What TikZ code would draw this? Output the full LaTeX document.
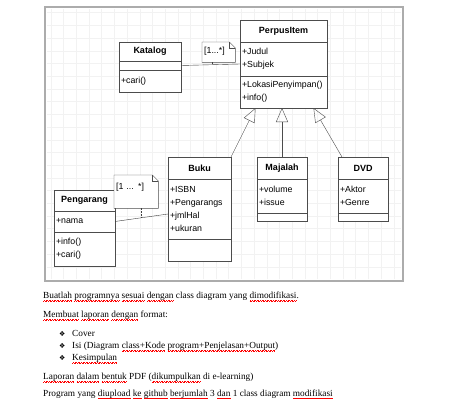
\documentclass[tikz,border=0pt]{standalone}
\usepackage{fontspec}
\setmainfont{Liberation Serif}
\newfontfamily\umlfont{Liberation Sans}
\newfontfamily\symfont{DejaVu Sans}
\usetikzlibrary{arrows.meta,positioning,calc}

% red wavy underline, as the spell checker draws it
\newcommand\sqwave{\hbox{\rule[-2.7pt]{0.8pt}{0.4pt}\rule[-2.2pt]{0.8pt}{0.4pt}}}
\newcommand\sq[1]{\setbox0\hbox{#1}\rlap{\color{red}\hbox to\wd0{\xleaders\sqwave\hfil}}\box0\relax}
\newcommand\bul{\makebox[13pt][l]{\symfont\fontsize{7}{7}\selectfont ❖}}

\tikzset{
  cls/.style={draw=black!70, fill=white, inner xsep=2pt, inner ysep=0pt,
    outer sep=0pt, align=left, font=\umlfont\fontsize{8.8}{13}\selectfont},
  clsname/.style={cls, align=center, font=\umlfont\bfseries\fontsize{9}{11}\selectfont},
  note/.style={fill=white, inner xsep=2pt, inner ysep=0pt, anchor=north west,
    align=left, text height=6.5pt, font=\umlfont\fontsize{8.8}{11}\selectfont},
  gen/.style={draw=black!70, -{Triangle[open,length=14pt,width=12pt]}},
  assoc/.style={draw=black!75},
  txt/.style={anchor=base west, inner sep=0pt, font=\fontsize{9.3}{12}\selectfont}
}

\begin{document}
\begin{tikzpicture}[x=1pt, y=-1pt]
    \path[fill=white] (0,0) rectangle (449,412);

    % frame with grid
    \draw[gray!65, line width=1.4pt, fill=white] (45,7) rectangle (403,281);
    \draw[gray!10, step=12.7pt] (47,9) grid (401,279);

    % Katalog
    \node[clsname, text width=58pt, minimum height=19pt, anchor=north west] (katalog) at (119,42) {Katalog};
    \node[cls, text width=58pt, minimum height=9pt, below=0pt of katalog] (katalogattr) {};
    \node[cls, text width=58pt, minimum height=22pt, below=0pt of katalogattr] (katalogops) {+cari()};

    % PerpusItem
    \node[clsname, text width=83pt, minimum height=22pt, anchor=north west] (perpus) at (240,20) {PerpusItem};
    \node[cls, text width=83pt, minimum height=34pt, below=0pt of perpus] (perpusattr) {+Judul\\+Subjek};
    \node[cls, text width=83pt, minimum height=32pt, below=0pt of perpusattr] (perpusops) {+LokasiPenyimpan()\\+info()};

    % Buku
    \node[clsname, text width=59pt, minimum height=22pt, anchor=north west] (buku) at (168,157) {Buku};
    \node[cls, text width=59pt, minimum height=60pt, below=0pt of buku] (bukuattr) {+ISBN\\+Pengarangs\\+jmlHal\\+ukuran};
    \node[cls, text width=59pt, minimum height=22pt, below=0pt of bukuattr] (bukuops) {};

    % Majalah
    \node[clsname, text width=46pt, minimum height=22pt, anchor=north west] (majalah) at (257,157) {Majalah};
    \node[cls, text width=46pt, minimum height=34pt, below=0pt of majalah] (majalahattr) {+volume\\+issue};
    \node[cls, text width=46pt, minimum height=8pt, below=0pt of majalahattr] (majalahops) {};

    % DVD
    \node[clsname, text width=46pt, minimum height=22pt, anchor=north west] (dvd) at (338,157) {DVD};
    \node[cls, text width=46pt, minimum height=34pt, below=0pt of dvd] (dvdattr) {+Aktor\\+Genre};
    \node[cls, text width=46pt, minimum height=8pt, below=0pt of dvdattr] (dvdops) {};

    % Pengarang
    \node[clsname, text width=57pt, minimum height=21pt, anchor=north west] (pengarang) at (54,190) {Pengarang};
    \node[cls, text width=57pt, minimum height=21pt, below=0pt of pengarang] (pengarangattr) {+nama};
    \node[cls, text width=57pt, minimum height=34pt, below=0pt of pengarangattr] (pengarangops) {+info()\\+cari()};

    % multiplicity notes
    \node[note, text width=29pt, minimum height=20pt, text depth=4.5pt] (katnote) at (202,42) {[1...*]};
    \node[note, text width=40pt, minimum height=33pt, text depth=11.5pt] (pengnote) at (114,175) {[1 ... *]};
    \foreach \n in {katnote,pengnote} {
      \draw[black!70] (\n.north west) -- ([xshift=-6pt]\n.north east) -- ([yshift=-6pt]\n.north east)
        -- (\n.south east) -- (\n.south west) -- cycle;
      \draw[black!70] ([xshift=-6pt]\n.north east) |- ([yshift=-6pt]\n.north east);
    }

    % associations
    \coordinate (kp) at ($(katalogattr.east)!0.53!([yshift=-5pt]perpusattr.west)$);
    \draw[assoc] (katalogattr.east) -- ([yshift=-5pt]perpusattr.west);
    \draw[assoc, dash pattern=on 1.5pt off 1.5pt] (katnote.south -| kp) -- (kp);

    \coordinate (pb) at ($(pengarangattr.east)!0.49!([yshift=-5pt]bukuattr.west)$);
    \draw[assoc] (pengarangattr.east) -- ([yshift=-5pt]bukuattr.west);
    \draw[assoc, dash pattern=on 1.5pt off 1.5pt] (pengnote.south -| pb) -- (pb);

    % generalization
    \draw[gen] (buku.north east) -- ([xshift=-28pt]perpusops.south);
    \draw[gen] (majalah.north) -- (majalah.north |- perpusops.south);
    \draw[gen] ([xshift=4pt]dvd.north west) -- ([xshift=30pt]perpusops.south);

    % task text
    \node[txt] (line1) at (43,298.5) {\sq{Buatlah} \sq{programnya} \sq{sesuai} \sq{dengan} class diagram yang \sq{dimodifikasi}.};
    \node[txt] (line2) at (43,317.5) {\sq{Membuat} \sq{laporan} \sq{dengan} format:};
    \node[txt] (item1) at (59,336.5) {\bul Cover};
    \node[txt] (item2) at (59,348.5) {\bul Isi (Diagram \sq{class+Kode} \sq{program+Penjelasan+Output})};
    \node[txt] (item3) at (59,360.5) {\bul \sq{Kesimpulan}};
    \node[txt] (line4) at (43,379.5) {\sq{Laporan} \sq{dalam} \sq{bentuk} PDF (\sq{dikumpulkan} di e-learning)};
    \node[txt] (line5) at (43,396) {Program yang \sq{diupload} \sq{ke} \sq{github} \sq{berjumlah} 3 \sq{dan} 1 class diagram \sq{modifikasi}};
\end{tikzpicture}
\end{document}
